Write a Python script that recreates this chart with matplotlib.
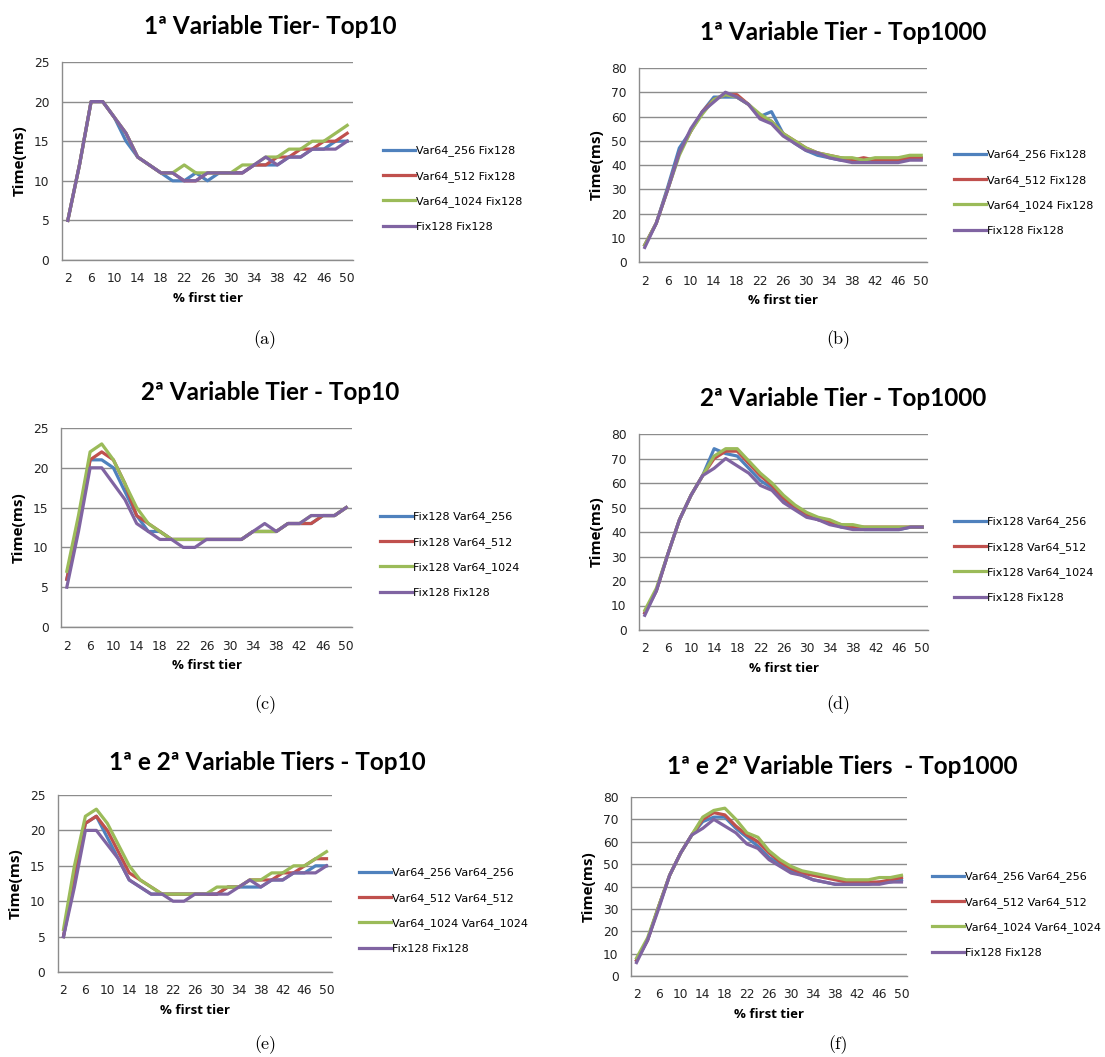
import matplotlib
matplotlib.use('Agg')
import matplotlib.pyplot as plt

# ----------------------------------------------------------------------------
# Data
# ----------------------------------------------------------------------------
pct_first_tier = [2, 4, 6, 8, 10, 12, 14, 16, 18, 20, 22, 24, 26,
                  28, 30, 32, 34, 36, 38, 40, 42, 44, 46, 48, 50]
tick_labels = ['2', '6', '10', '14', '18', '22', '26', '30', '34', '38', '42', '46', '50']

# (a) 1a Variable Tier - Top10
a_var256 = [5, 12, 20, 20, 18, 15, 13, 12, 11, 10, 10, 11, 10, 11, 11, 11, 12, 12, 12, 13, 13, 14, 14, 15, 15]
a_var512 = [5, 12, 20, 20, 18, 16, 13, 12, 11, 11, 10, 10, 11, 11, 11, 11, 12, 12, 13, 13, 14, 14, 15, 15, 16]
a_var1024 = [5, 12, 20, 20, 18, 16, 13, 12, 11, 11, 12, 11, 11, 11, 11, 12, 12, 13, 13, 14, 14, 15, 15, 16, 17]
a_fix128 = [5, 12, 20, 20, 18, 16, 13, 12, 11, 11, 10, 10, 11, 11, 11, 11, 12, 13, 12, 13, 13, 14, 14, 14, 15]

# (b) 1a Variable Tier - Top1000
b_var256 = [7, 16, 31, 47, 54, 62, 68, 68, 68, 65, 60, 62, 53, 49, 46, 44, 43, 42, 42, 42, 42, 42, 42, 43, 43]
b_var512 = [7, 16, 30, 45, 54, 62, 67, 69, 69, 65, 60, 58, 53, 50, 47, 45, 44, 43, 42, 43, 42, 42, 42, 43, 43]
b_var1024 = [7, 16, 30, 44, 54, 61, 67, 69, 68, 65, 61, 58, 53, 50, 47, 45, 44, 43, 43, 42, 43, 43, 43, 44, 44]
b_fix128 = [6, 16, 30, 45, 55, 62, 66, 70, 68, 65, 59, 57, 52, 49, 46, 45, 43, 42, 41, 41, 41, 41, 41, 42, 42]

# (c) 2a Variable Tier - Top10
c_var256 = [6, 13, 21, 21, 20, 17, 14, 12, 12, 11, 11, 11, 11, 11, 11, 11, 12, 12, 12, 13, 13, 13, 14, 14, 15]
c_var512 = [6, 13, 21, 22, 21, 18, 14, 13, 12, 11, 11, 11, 11, 11, 11, 11, 12, 12, 12, 13, 13, 13, 14, 14, 15]
c_var1024 = [7, 14, 22, 23, 21, 18, 15, 13, 12, 11, 11, 11, 11, 11, 11, 11, 12, 12, 12, 13, 13, 14, 14, 14, 15]
c_fix128 = [5, 12, 20, 20, 18, 16, 13, 12, 11, 11, 10, 10, 11, 11, 11, 11, 12, 13, 12, 13, 13, 14, 14, 14, 15]

# (d) 2a Variable Tier - Top1000
d_var256 = [7, 16, 31, 45, 55, 63, 74, 72, 71, 66, 61, 58, 53, 50, 47, 45, 44, 42, 42, 41, 41, 41, 41, 42, 42]
d_var512 = [7, 16, 31, 45, 55, 63, 70, 73, 73, 68, 63, 59, 54, 50, 47, 45, 44, 43, 42, 42, 42, 42, 42, 42, 42]
d_var1024 = [8, 17, 31, 45, 55, 63, 71, 74, 74, 69, 64, 60, 55, 51, 48, 46, 45, 43, 43, 42, 42, 42, 42, 42, 42]
d_fix128 = [6, 16, 31, 45, 55, 63, 66, 70, 67, 64, 59, 57, 52, 49, 46, 45, 43, 42, 41, 41, 41, 41, 41, 42, 42]

# (e) 1a e 2a Variable Tiers - Top10
e_var256 = [5, 13, 21, 22, 19, 16, 13, 12, 11, 11, 11, 11, 11, 11, 11, 12, 12, 12, 12, 13, 13, 14, 14, 15, 15]
e_var512 = [5, 14, 21, 22, 20, 17, 14, 13, 12, 11, 11, 11, 11, 11, 11, 12, 12, 13, 13, 13, 14, 14, 15, 16, 16]
e_var1024 = [6, 15, 22, 23, 21, 18, 15, 13, 12, 11, 11, 11, 11, 11, 12, 12, 12, 13, 13, 14, 14, 15, 15, 16, 17]
e_fix128 = [5, 12, 20, 20, 18, 16, 13, 12, 11, 11, 10, 10, 11, 11, 11, 11, 12, 13, 12, 13, 13, 14, 14, 14, 15]

# (f) 1a e 2a Variable Tiers - Top1000
f_var256 = [7, 16, 31, 45, 55, 63, 69, 71, 71, 66, 62, 58, 53, 50, 47, 45, 43, 42, 41, 41, 41, 41, 42, 42, 43]
f_var512 = [7, 16, 31, 45, 55, 63, 70, 73, 72, 67, 63, 60, 55, 51, 48, 46, 45, 44, 43, 42, 42, 42, 42, 43, 44]
f_var1024 = [8, 17, 31, 45, 55, 63, 71, 74, 75, 70, 64, 62, 56, 52, 49, 47, 46, 45, 44, 43, 43, 43, 44, 44, 45]
f_fix128 = [6, 16, 30, 45, 55, 63, 66, 70, 67, 64, 59, 57, 52, 49, 46, 45, 43, 42, 41, 41, 41, 41, 41, 42, 42]

labels_1st = ['Var64_256 Fix128', 'Var64_512 Fix128', 'Var64_1024 Fix128', 'Fix128 Fix128']
labels_2nd = ['Fix128 Var64_256', 'Fix128 Var64_512', 'Fix128 Var64_1024', 'Fix128 Fix128']
labels_both = ['Var64_256 Var64_256', 'Var64_512 Var64_512', 'Var64_1024 Var64_1024', 'Fix128 Fix128']

titles = ['1ª Variable Tier- Top10', '1ª Variable Tier - Top1000',
          '2ª Variable Tier - Top10', '2ª Variable Tier - Top1000',
          '1ª e 2ª Variable Tiers - Top10', '1ª e 2ª Variable Tiers  - Top1000']
captions = ['(a)', '(b)', '(c)', '(d)', '(e)', '(f)']

# Excel 2007 default palette
colors = ['#4F81BD', '#C0504D', '#9BBB59', '#8064A2']

# ----------------------------------------------------------------------------
# Layout (pixel boxes in the 1105x1057 canvas)
# ----------------------------------------------------------------------------
W, H = 1105, 1057
panels = [
    # series, labels, ymax, axes box (l, t, r, b), legend (x, first y), title (x, y), caption (x, y)
    ([a_var256, a_var512, a_var1024, a_fix128], labels_1st, 25, (62, 62, 353, 260), (377, 147), (270, 27), (265, 340)),
    ([b_var256, b_var512, b_var1024, b_fix128], labels_1st, 80, (639, 68, 927, 262), (948, 151), (843, 32), (838, 340)),
    ([c_var256, c_var512, c_var1024, c_fix128], labels_2nd, 25, (61, 428, 352, 627), (374, 513), (270, 393), (265, 705)),
    ([d_var256, d_var512, d_var1024, d_fix128], labels_2nd, 80, (639, 434, 928, 630), (948, 518), (843, 398), (838, 705)),
    ([e_var256, e_var512, e_var1024, e_fix128], labels_both, 25, (58, 795, 332, 972), (353, 869), (267, 762), (265, 1045)),
    ([f_var256, f_var512, f_var1024, f_fix128], labels_both, 80, (631, 797, 907, 976), (926, 873), (842, 766), (838, 1045)),
]

title_font = 'Lato'
label_font = 'Open Sans'
grid_color = '#8C8C8C'

fig = plt.figure(figsize=(W / 100, H / 100), dpi=100)

for i, (series, labels, ymax, box, leg, ttl, cap) in enumerate(panels):
    l, t, r, b = box
    ax = fig.add_axes([l / W, 1 - b / H, (r - l) / W, (b - t) / H])
    xs = list(range(len(pct_first_tier)))
    for vals, lab, col in zip(series, labels, colors):
        ax.plot(xs, vals, color=col, linewidth=2.3, label=lab, solid_joinstyle='round')

    ax.set_xlim(-0.5, len(pct_first_tier) - 0.5)
    ax.set_ylim(0, ymax)
    ax.set_xticks(xs[::2])
    ax.set_xticklabels(tick_labels)
    step = 5 if ymax == 25 else 10
    ax.set_yticks(range(0, ymax + 1, step))

    ax.grid(axis='y', color=grid_color, linewidth=1.0)
    ax.set_axisbelow(True)
    for side in ['top', 'right']:
        ax.spines[side].set_visible(False)
    for side in ['left', 'bottom']:
        ax.spines[side].set_color(grid_color)
        ax.spines[side].set_linewidth(1.0)
    ax.tick_params(length=0, pad=9, labelcolor='#222222')
    for lbl in ax.get_xticklabels() + ax.get_yticklabels():
        lbl.set_fontfamily('DejaVu Sans')
        lbl.set_fontsize(8.8)

    ax.set_xlabel('% first tier', fontfamily=label_font, fontweight='bold', fontsize=9.5, labelpad=5)
    ax.set_ylabel('Time(ms)', fontfamily=label_font, fontweight='bold', fontsize=11)
    # label's right edge sits about 35 px left of the y axis
    ax.yaxis.set_label_coords(-35 / (r - l), 0.5)

    ax.legend(loc='center left', bbox_to_anchor=(leg[0] / W, 1 - (leg[1] + 41.5) / H),
              bbox_transform=fig.transFigure, frameon=False, borderpad=0,
              handlelength=2.9, handletextpad=0.1, labelspacing=1.3,
              prop={'family': 'DejaVu Sans', 'size': 8})

    fig.text(ttl[0] / W, 1 - ttl[1] / H, titles[i], ha='center', va='center',
             fontfamily=title_font, fontweight='bold', fontsize=17.5)
    fig.text(cap[0] / W, 1 - cap[1] / H, captions[i], ha='center', va='center',
             fontfamily='cmr10', fontsize=13)

plt.savefig('out.png', dpi=100)
